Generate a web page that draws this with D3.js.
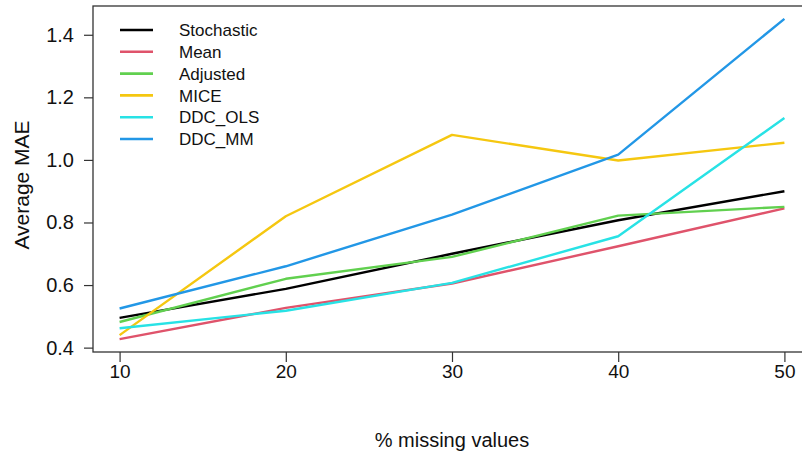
<!DOCTYPE html>
<html>
<head>
<meta charset="utf-8">
<script src="https://cdn.jsdelivr.net/npm/d3@7"></script>
<style>
  html, body { margin: 0; padding: 0; background: #fff; }
  svg { display: block; font-family: "Liberation Sans", Arial, sans-serif; }
</style>
</head>
<body>
<svg id="chart" width="802" height="457"></svg>
<script>
// % missing values on the x axis
const missing = [10, 20, 30, 40, 50];

// Average MAE for each imputation method
const stochastic = [0.495, 0.588, 0.700, 0.807, 0.900];
const meanImp    = [0.427, 0.527, 0.605, 0.724, 0.845];
const adjusted   = [0.482, 0.620, 0.690, 0.822, 0.850];
const mice       = [0.440, 0.820, 1.080, 0.998, 1.055];
const ddcOls     = [0.462, 0.518, 0.607, 0.756, 1.134];
const ddcMm      = [0.525, 0.660, 0.825, 1.017, 1.451];

const seriesNames  = ["Stochastic", "Mean", "Adjusted", "MICE", "DDC_OLS", "DDC_MM"];
const seriesValues = [stochastic, meanImp, adjusted, mice, ddcOls, ddcMm];
const seriesColors = ["#000000", "#DF536B", "#61D04F", "#F5C710", "#28E2E5", "#2297E6"];

const xTicks = [10, 20, 30, 40, 50];
const yTicks = [0.4, 0.6, 0.8, 1.0, 1.2, 1.4];

const svg = d3.select("#chart");
const frame = { left: 93, right: 811, top: 6, bottom: 352 };

// axis limits padded by 4% on each side
function padded(ext) {
  const d = (ext[1] - ext[0]) * 0.04;
  return [ext[0] - d, ext[1] + d];
}
const allVals = seriesValues.flat();
const x = d3.scaleLinear().domain(padded(d3.extent(missing))).range([frame.left, frame.right]);
const y = d3.scaleLinear().domain(padded(d3.extent(allVals))).range([frame.bottom, frame.top]);

// lines
const line = d3.line().x((d, i) => x(missing[i])).y(d => y(d));
svg.append("g").selectAll("path")
  .data(seriesValues)
  .join("path")
  .attr("d", d => line(d))
  .attr("fill", "none")
  .attr("stroke", (d, i) => seriesColors[i])
  .attr("stroke-width", 2.4)
  .attr("stroke-linejoin", "round");

// plot frame
svg.append("rect")
  .attr("x", frame.left).attr("y", frame.top)
  .attr("width", frame.right - frame.left).attr("height", frame.bottom - frame.top)
  .attr("fill", "none").attr("stroke", "#333").attr("stroke-width", 1.3);

// x axis
const xAxis = svg.append("g")
  .attr("transform", `translate(0,${frame.bottom})`)
  .call(d3.axisBottom(x).tickValues(xTicks).tickSize(10).tickPadding(3).tickFormat(d3.format("d")));
xAxis.select(".domain").remove();
xAxis.selectAll("line").attr("stroke", "#333").attr("stroke-width", 1.2);
xAxis.selectAll("text").attr("font-size", 19).attr("fill", "#111");

// y axis
const yAxis = svg.append("g")
  .attr("transform", `translate(${frame.left},0)`)
  .call(d3.axisLeft(y).tickValues(yTicks).tickSize(9).tickPadding(10).tickFormat(d3.format(".1f")));
yAxis.select(".domain").remove();
yAxis.selectAll("line").attr("stroke", "#333").attr("stroke-width", 1.2);
yAxis.selectAll("text").attr("font-size", 20).attr("fill", "#111");

// axis titles
svg.append("text")
  .attr("x", (frame.left + frame.right) / 2).attr("y", 447)
  .attr("text-anchor", "middle").attr("font-size", 20).attr("fill", "#111")
  .text("% missing values");
svg.append("text")
  .attr("transform", `translate(29,${(frame.top + frame.bottom) / 2 + 6}) rotate(-90)`)
  .attr("text-anchor", "middle").attr("font-size", 21).attr("fill", "#111")
  .text("Average MAE");

// legend
const legend = svg.append("g").attr("transform", "translate(120,30)");
const rows = legend.selectAll("g").data(seriesNames).join("g")
  .attr("transform", (d, i) => `translate(0,${i * 21.8})`);
rows.append("line")
  .attr("x1", 0).attr("x2", 33).attr("y1", 0).attr("y2", 0)
  .attr("stroke", (d, i) => seriesColors[i]).attr("stroke-width", 2.6);
rows.append("text")
  .attr("x", 59).attr("y", 0).attr("dy", "0.36em")
  .attr("font-size", 17).attr("fill", "#111")
  .text(d => d);
</script>
</body>
</html>
